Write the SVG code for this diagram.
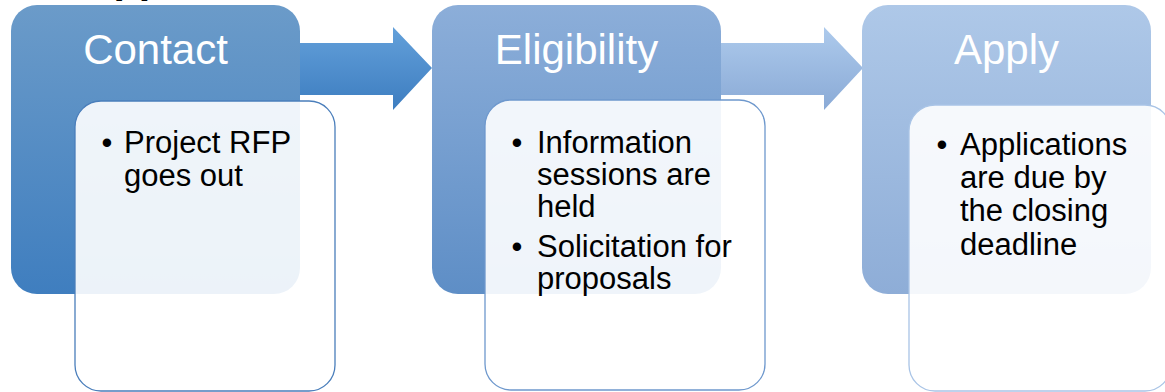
<svg xmlns="http://www.w3.org/2000/svg" width="1165" height="392" viewBox="0 0 1165 392">
  <defs>
    <linearGradient id="g1" x1="0" y1="0" x2="0" y2="1">
      <stop offset="0" stop-color="#6b9bc9"/>
      <stop offset="1" stop-color="#3f7ebf"/>
    </linearGradient>
    <linearGradient id="g2" x1="0" y1="0" x2="0" y2="1">
      <stop offset="0" stop-color="#8caed9"/>
      <stop offset="1" stop-color="#5e8ec6"/>
    </linearGradient>
    <linearGradient id="g3" x1="0" y1="0" x2="0" y2="1">
      <stop offset="0" stop-color="#aec8e8"/>
      <stop offset="1" stop-color="#8eadd7"/>
    </linearGradient>
    <linearGradient id="a1" x1="0" y1="0" x2="0" y2="1">
      <stop offset="0" stop-color="#63a0da"/>
      <stop offset="1" stop-color="#3d7dc0"/>
    </linearGradient>
    <linearGradient id="a2" x1="0" y1="0" x2="0" y2="1">
      <stop offset="0" stop-color="#adcaec"/>
      <stop offset="1" stop-color="#8aaad6"/>
    </linearGradient>
  </defs>
  <style>
    .title { font-family: "Liberation Sans", Arial, sans-serif; font-size: 42px; fill: #ffffff; text-anchor: middle; }
    .body { font-family: "Liberation Sans", Arial, sans-serif; font-size: 31px; fill: #000000; }
    .bul { text-anchor: middle; }
    .card { fill: #ffffff; fill-opacity: 0.9; stroke-width: 1.3; }
  </style>

  <text x="84" y="-7" style="font-family: 'Liberation Sans', Arial, sans-serif; font-size: 41px; font-weight: bold; fill: #000;">Application</text>

  <g id="connectors">
    <polygon points="298,43 393,43 393,27 432,68 393,110 393,95 298,95" fill="url(#a1)"/>
    <polygon points="718,43 824,43 824,27 863,68 824,110 824,95 718,95" fill="url(#a2)"/>
  </g>

  <g id="node-contact">
    <rect x="11" y="5" width="289" height="289" rx="26" fill="url(#g1)"/>
    <text class="title" x="155.5" y="64">Contact</text>
    <rect class="card" x="75" y="101" width="260" height="290" rx="26" stroke="#4a7ebb"/>
    <text class="body bul" x="107" y="153">•</text>
    <text class="body" x="124">
      <tspan x="124" y="153">Project RFP</tspan>
      <tspan x="124" y="186">goes out</tspan>
    </text>
  </g>

  <g id="node-eligibility">
    <rect x="432" y="5" width="289" height="289" rx="26" fill="url(#g2)"/>
    <text class="title" x="576.5" y="64">Eligibility</text>
    <rect class="card" x="485" y="100" width="280" height="290" rx="26" stroke="#6e98cd"/>
    <text class="body bul" x="517" y="153">•</text>
    <text class="body bul" x="517" y="257">•</text>
    <text class="body">
      <tspan x="537" y="153">Information</tspan>
      <tspan x="537" y="185">sessions are</tspan>
      <tspan x="537" y="217">held</tspan>
      <tspan x="537" y="257">Solicitation for</tspan>
      <tspan x="537" y="289">proposals</tspan>
    </text>
  </g>

  <g id="node-apply">
    <rect x="862" y="5" width="289" height="289" rx="26" fill="url(#g3)"/>
    <text class="title" x="1006.5" y="64">Apply</text>
    <rect class="card" x="909" y="105" width="262" height="286" rx="26" stroke="#a9c4e6"/>
    <text class="body bul" x="942" y="155">•</text>
    <text class="body">
      <tspan x="960" y="155">Applications</tspan>
      <tspan x="960" y="188">are due by</tspan>
      <tspan x="960" y="221">the closing</tspan>
      <tspan x="960" y="255">deadline</tspan>
    </text>
  </g>
</svg>
